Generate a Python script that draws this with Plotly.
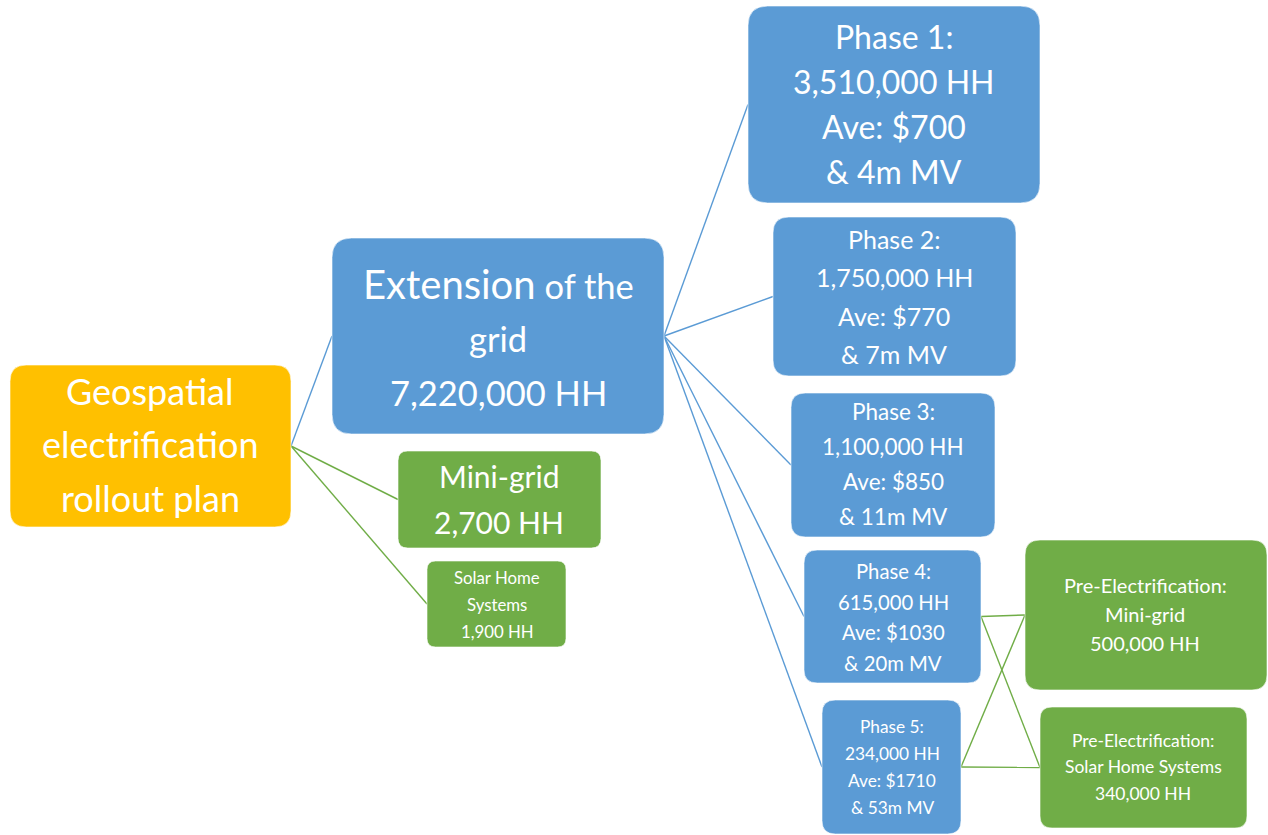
import plotly.graph_objects as go

# ---------------- data ----------------
root_label = ["Geospatial", "electrification", "rollout plan"]
grid_label = ["Extension of the", "grid", "7,220,000 HH"]
minigrid_label = ["Mini-grid", "2,700 HH"]
shs_label = ["Solar Home", "Systems", "1,900 HH"]

phase_names = ["Phase 1:", "Phase 2:", "Phase 3:", "Phase 4:", "Phase 5:"]
phase_households = ["3,510,000 HH", "1,750,000 HH", "1,100,000 HH", "615,000 HH", "234,000 HH"]
phase_avg_cost = ["Ave: $700", "Ave: $770", "Ave: $850", "Ave: $1030", "Ave: $1710"]
phase_mv = ["& 4m MV", "& 7m MV", "& 11m MV", "& 20m MV", "& 53m MV"]

pre_mg_label = ["Pre-Electrification:", "Mini-grid", "500,000 HH"]
pre_shs_label = ["Pre-Electrification:", "Solar Home Systems", "340,000 HH"]

node_ids = ["root", "grid", "mini", "shs", "p1", "p2", "p3", "p4", "p5", "pre_mg", "pre_shs"]
node_text = [root_label, grid_label, minigrid_label, shs_label] + [
    [phase_names[i], phase_households[i], phase_avg_cost[i], phase_mv[i]] for i in range(5)
] + [pre_mg_label, pre_shs_label]
node_kind = ["root", "grid", "off", "off", "grid", "grid", "grid", "grid", "grid", "off", "off"]

edges = [("root", "grid"), ("root", "mini"), ("root", "shs"),
         ("grid", "p1"), ("grid", "p2"), ("grid", "p3"), ("grid", "p4"), ("grid", "p5"),
         ("p4", "pre_mg"), ("p4", "pre_shs"), ("p5", "pre_mg"), ("p5", "pre_shs")]

# ---------------- layout / style ----------------
W, H = 1268, 835
colors = {"root": "#FFC000", "grid": "#5B9BD5", "off": "#70AD47"}
# box extents (x0, x1, y0, y1) in pixel space, y downward
boxes = {
    "root": (10, 291, 365, 527),
    "grid": (332, 664, 238, 434),
    "mini": (398, 601, 451, 548),
    "shs": (427, 566, 561, 647),
    "p1": (748, 1040, 6, 203),
    "p2": (773, 1016, 217, 376),
    "p3": (791, 995, 393, 537),
    "p4": (804, 981, 550, 683),
    "p5": (822, 961, 700, 834),
    "pre_mg": (1025, 1267, 540, 690),
    "pre_shs": (1040, 1247, 707, 828),
}
# font size, line spacing, text centre (x, y)
text_style = {
    "root": (36, 53.5, 150, 444),
    "grid": (34.5, 54.5, 498, 338),
    "mini": (30, 46, 499, 499),
    "shs": (16.8, 27, 497, 604),
    "p1": (32, 45.3, 894, 104),
    "p2": (25, 38.3, 894, 296.5),
    "p3": (22.5, 34.7, 893, 464),
    "p4": (20.3, 30.7, 893, 617),
    "p5": (17.3, 27, 892, 766.5),
    "pre_mg": (20, 29, 1145, 614),
    "pre_shs": (17.5, 26.5, 1143, 766.5),
}
FONT = "Lato, 'Open Sans', sans-serif"


def rounded_rect(x0, x1, y0, y1, r):
    return (f"M {x0+r},{y0} L {x1-r},{y0} Q {x1},{y0} {x1},{y0+r} "
            f"L {x1},{y1-r} Q {x1},{y1} {x1-r},{y1} L {x0+r},{y1} "
            f"Q {x0},{y1} {x0},{y1-r} L {x0},{y0+r} Q {x0},{y0} {x0+r},{y0} Z")


shapes = []
for a, b in edges:
    ax0, ax1, ay0, ay1 = boxes[a]
    bx0, bx1, by0, by1 = boxes[b]
    kind = node_kind[node_ids.index(b)]
    line_color = colors["grid"] if kind == "grid" else colors["off"]
    shapes.append(dict(type="line", xref="x", yref="y",
                       x0=ax1, y0=(ay0 + ay1) / 2, x1=bx0, y1=(by0 + by1) / 2,
                       line=dict(color=line_color, width=1.4)))

for nid, kind in zip(node_ids, node_kind):
    x0, x1, y0, y1 = boxes[nid]
    r = 0.1 * min(x1 - x0, y1 - y0)
    shapes.append(dict(type="path", xref="x", yref="y", path=rounded_rect(x0, x1, y0, y1, r),
                       fillcolor=colors[kind], line=dict(color="rgba(255,255,255,0.6)", width=1)))

annotations = []
for nid, lines in zip(node_ids, node_text):
    size, spacing, cx, cy = text_style[nid]
    n = len(lines)
    for i, t in enumerate(lines):
        txt = t
        if nid == "grid" and i == 0:
            txt = "<span style='font-size:40px'>Extension</span> of the"
        annotations.append(dict(x=cx, y=cy + (i - (n - 1) / 2) * spacing, xref="x", yref="y",
                                text=txt, showarrow=False, xanchor="center", yanchor="middle",
                                font=dict(family=FONT, size=size, color="white")))

fig = go.Figure()
fig.add_trace(go.Scatter(x=[0, W], y=[0, H], mode="markers", marker=dict(opacity=0),
                         hoverinfo="skip", showlegend=False))
fig.update_layout(
    width=W, height=H, margin=dict(l=0, r=0, t=0, b=0),
    paper_bgcolor="white", plot_bgcolor="white",
    xaxis=dict(range=[0, W], visible=False, fixedrange=True),
    yaxis=dict(range=[H, 0], visible=False, fixedrange=True),
    shapes=shapes, annotations=annotations, showlegend=False,
)
fig.write_html("out.html", config={"displayModeBar": False},
               post_script="document.body.style.margin='0';document.body.style.overflow='hidden';")
